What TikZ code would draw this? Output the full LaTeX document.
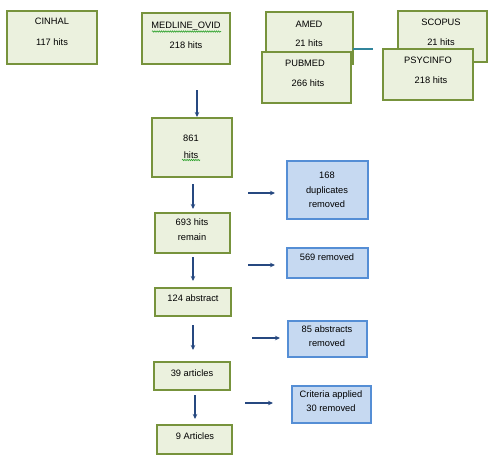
\documentclass[tikz,border=0pt]{standalone}
\usepackage{fontspec}
\setmainfont{Liberation Sans}
\usetikzlibrary{arrows.meta,decorations.pathmorphing}
\definecolor{gfill}{HTML}{EBF1DE}
\definecolor{gdraw}{HTML}{77933C}
\definecolor{bfill}{HTML}{C6D9F1}
\definecolor{bdraw}{HTML}{558ED5}
\definecolor{arr}{RGB}{38,72,128}
\definecolor{teal}{HTML}{31859C}
\definecolor{squig}{RGB}{40,160,40}
\tikzset{
  gbox/.style={draw=gdraw,fill=gfill,line width=1.6pt},
  bbox/.style={draw=bdraw,fill=bfill,line width=1.6pt},
  txt/.style={inner sep=0pt,text height=6.7pt,text depth=0pt,font=\fontsize{9.3}{11}\selectfont},
  flow/.style={draw=arr,line width=1.4pt,-{Stealth[length=5pt,width=4.5pt]}},
  wavy/.style={draw=squig,line width=0.6pt,decorate,decoration={snake,amplitude=0.7pt,segment length=2.2pt}}
}
\begin{document}
\begin{tikzpicture}[x=1pt,y=-1pt]
\useasboundingbox (0,0) rectangle (495,464);
% top databases
\path[gbox] (7,11) rectangle (97,64);
\node[txt] (cinhal) at (52,21) {CINHAL};
\node[txt] (cinhalh) at (52,42) {117 hits};
\path[gbox] (142,13) rectangle (230,64);
\node[txt] (medline) at (186,25) {MEDLINE\_OVID};
\node[txt] (medlineh) at (186,45) {218 hits};
\draw[wavy] (152,31.5) -- (221,31.5);
\path[gbox] (266,12) rectangle (353,64);
\node[txt] (amed) at (309,24) {AMED};
\node[txt] (amedh) at (309,43) {21 hits};
\path[gbox] (262,52) rectangle (351,103);
\node[txt] (pubmed) at (305,63) {PUBMED};
\node[txt] (pubmedh) at (308,83) {266 hits};
\path[gbox] (398,11) rectangle (487,62);
\node[txt] (scopus) at (441,22) {SCOPUS};
\node[txt] (scopush) at (441,42) {21 hits};
\path[gbox] (383,49) rectangle (473,100);
\node[txt] (psyc) at (428,60) {PSYCINFO};
\node[txt] (psych) at (431,80) {218 hits};
\coordinate (t1) at (353,49);
\coordinate (t2) at (373,49);
\draw[teal,line width=1.4pt] (t1) -- (t2);
% main flow
\path[gbox] (152,118) rectangle (232,177);
\node[txt] (n861) at (191,138) {861};
\node[txt] (n861h) at (191,155) {hits};
\draw[wavy] (182,160) -- (200,160);
\path[gbox] (155,213) rectangle (230,253);
\node[txt] (n693) at (192,222) {693 hits};
\node[txt] (n693r) at (192,237) {remain};
\path[gbox] (155,288) rectangle (231,316);
\node[txt] (n124) at (193,298) {124 abstract};
\path[gbox] (154,362) rectangle (230,390);
\node[txt] (n39) at (192,373) {39 articles};
\path[gbox] (157,425) rectangle (232,454);
\node[txt] (n9) at (195,436) {9 Articles};
% removed boxes
\path[bbox] (287,161) rectangle (368,219);
\node[txt] (r168) at (327,175) {168};
\node[txt] (r168b) at (327,190) {duplicates};
\node[txt] (r168c) at (327,204) {removed};
\path[bbox] (287,248) rectangle (368,278);
\node[txt] (r569) at (327,257) {569 removed};
\path[bbox] (288,321) rectangle (367,357);
\node[txt] (r85) at (327,329) {85 abstracts};
\node[txt] (r85b) at (327,343) {removed};
\path[bbox] (292,386) rectangle (371,423);
\node[txt] (rcrit) at (331,394) {Criteria applied};
\node[txt] (rcritb) at (331,408) {30 removed};
% arrows
\coordinate (a1s) at (197,90);  \coordinate (a1e) at (197,117);
\coordinate (a2s) at (193,184); \coordinate (a2e) at (193,209);
\coordinate (a3s) at (193,257); \coordinate (a3e) at (193,281);
\coordinate (a4s) at (193,325); \coordinate (a4e) at (193,350);
\coordinate (a5s) at (195,395); \coordinate (a5e) at (195,419);
\coordinate (b1s) at (248,193); \coordinate (b1e) at (275,193);
\coordinate (b2s) at (248,265); \coordinate (b2e) at (275,265);
\coordinate (b3s) at (252,338); \coordinate (b3e) at (280,338);
\coordinate (b4s) at (245,403); \coordinate (b4e) at (273,403);
\foreach \s/\e in {a1s/a1e,a2s/a2e,a3s/a3e,a4s/a4e,a5s/a5e,b1s/b1e,b2s/b2e,b3s/b3e,b4s/b4e}
  \draw[flow] (\s) -- (\e);
\end{tikzpicture}
\end{document}
